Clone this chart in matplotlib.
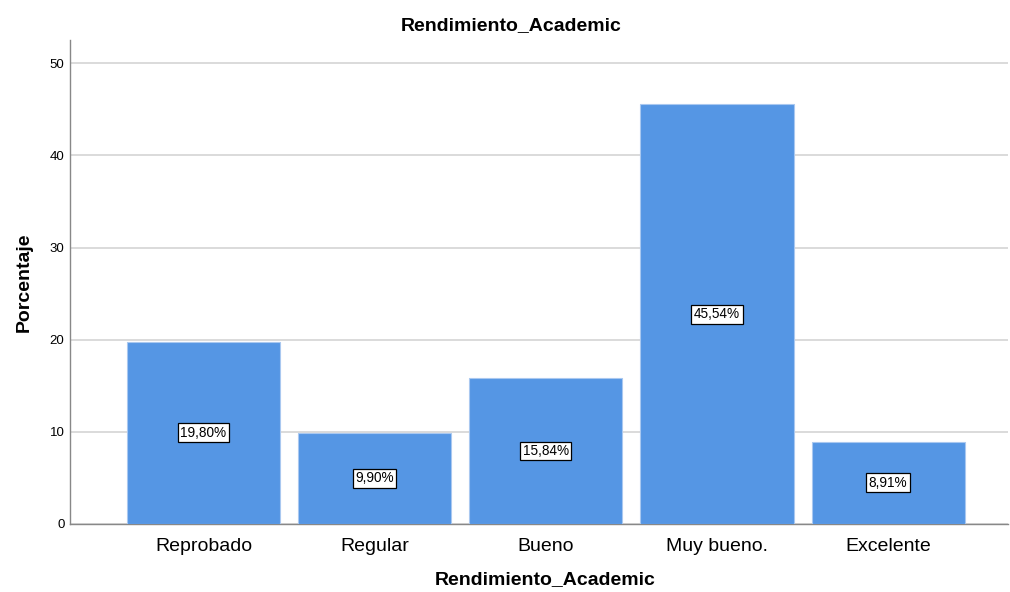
import matplotlib

matplotlib.use("Agg")

import matplotlib.pyplot as plt

categories = ["Reprobado", "Regular", "Bueno", "Muy bueno.", "Excelente"]
percentages = [19.80, 9.90, 15.84, 45.54, 8.91]
yticks = [0, 10, 20, 30, 40, 50]

BAR_COLOR = "#5596e4"
plt.rcParams["font.family"] = ["Liberation Sans", "DejaVu Sans"]

fig = plt.figure(figsize=(10.10, 5.92), dpi=100)
ax = fig.add_axes([0.0693, 0.1149, 0.9287, 0.8171])

x = range(len(categories))
ax.bar(x, percentages, width=0.895, color=BAR_COLOR, edgecolor="#a9c8f0",
       linewidth=0.8, zorder=3)

for xi, v in zip(x, percentages):
    label = f"{v:.2f}%".replace(".", ",")
    ax.text(xi, v / 2, label, ha="center", va="center", fontsize=9.8,
            zorder=4,
            bbox=dict(boxstyle="square,pad=0.18", facecolor="white",
                      edgecolor="black", linewidth=0.9))

ax.set_xlim(-0.78, 4.70)
ax.set_ylim(0, 52.5)
ax.set_yticks(yticks)
ax.set_xticks(list(x))
ax.set_xticklabels(categories, fontsize=14)
ax.tick_params(axis="y", labelsize=9.5, length=0, pad=4)
ax.tick_params(axis="x", length=0, pad=10)
ax.grid(axis="y", color="#d4d4d4", linewidth=1.2, zorder=0)

for side in ["top", "right"]:
    ax.spines[side].set_visible(False)
for side in ["left", "bottom"]:
    ax.spines[side].set_color("#888888")
    ax.spines[side].set_linewidth(1.0)

ax.set_title("Rendimiento_Academic", fontsize=14, fontweight="bold", pad=7, x=0.470)
ax.set_xlabel("Rendimiento_Academic", fontsize=14, fontweight="bold", labelpad=12, x=0.507)
ax.set_ylabel("Porcentaje", fontsize=14, fontweight="bold", labelpad=12)

fig.savefig("out.png", dpi=100, facecolor="white")
